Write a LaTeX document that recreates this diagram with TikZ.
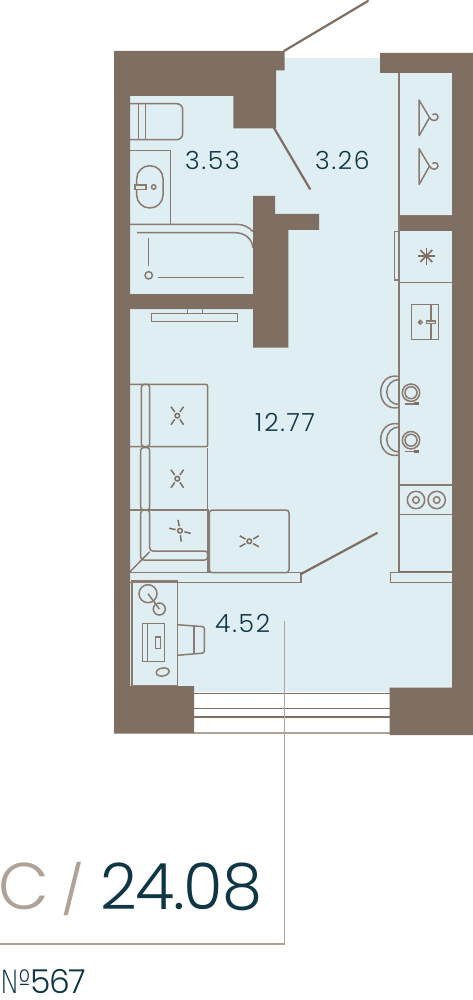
\documentclass[tikz,border=0pt]{standalone}
\usepackage{fontspec}
\newfontfamily\lightfont[LetterSpace=7]{Poppins Light}
\newfontfamily\bigfont[LetterSpace=-2]{Poppins Light}
\newfontfamily\plainfont{Poppins Light}
\newfontfamily\slashfont{Poppins}
\newfontfamily\digitfont[LetterSpace=-5]{Poppins Light}
\newfontfamily\numfont[FakeStretch=0.82]{DejaVu Sans ExtraLight}
\definecolor{wall}{HTML}{7F6E62}
\definecolor{floorc}{HTML}{DFEEF3}
\definecolor{linec}{HTML}{8A7B70}
\definecolor{tan}{HTML}{B0A297}
\definecolor{ink}{HTML}{0F3644}
\tikzset{
  wallshape/.style={fill=wall,draw=none},
  item/.style={draw=linec,line width=1.5pt,fill=none},
  leaf/.style={draw=wall,line width=2.2pt,line cap=round},
  leader/.style={draw=tan,line width=1.4pt},
  area/.style={text=ink,anchor=base west,inner sep=0pt,font=\lightfont\fontsize{25}{25}\selectfont},
}
\newcommand{\tuft}[6]{\begin{scope}[shift={(#1,#2)}]
  \draw[item,draw=wall] (0,0) circle[radius=2.3pt];
  \foreach \a in {#3,#4,#5,#6} \draw[item,draw=wall] (\a:4.5) -- (\a:11);
\end{scope}}
\newcommand{\hanger}[1]{\begin{scope}[shift={(0,#1)}]
  \draw[item,line join=round] (419,136) -- (419,100) -- (429.5,117.5) -- (419,136);
  \draw[item] (429.5,117.5) .. controls (431,121) and (437,122) .. (438,117.5) .. controls (438.5,114) and (434,113) .. (432.5,115);
\end{scope}}
\newcommand{\dining}[1]{\begin{scope}[shift={(0,#1)}]
  \draw[item] (399,376.5) .. controls (387,374) and (380.7,383) .. (380.7,392) .. controls (380.7,401) and (387,410) .. (399,407.5);
  \draw[item] (399,379.5) .. controls (392,379.5) and (386.7,385) .. (386.7,392) .. controls (386.7,399) and (392,404.5) .. (399,404.5);
  \draw[item] (411,392.7) circle[radius=8.7pt];
  \draw[item] (411,392.7) circle[radius=6pt];
  \draw[item] (404.5,403.8) -- (419,403.8);
  \fill[wall] (413.5,402.3) rectangle (419,405.3);
\end{scope}}
\begin{document}
\begin{tikzpicture}[x=1pt,y=-1pt]
\useasboundingbox (0,0) rectangle (473,1000);
% floor
\fill[floorc] (130,58) rectangle (452,692);
% bathroom
\draw[item] (130,103.7) -- (176.7,103.7) arc[start angle=90,end angle=0,radius=6pt] -- (182.7,133.7) arc[start angle=0,end angle=-90,radius=6pt] -- (130,139.7);
\draw[item] (138.7,103.7) -- (138.7,139.7) (145.3,103.7) -- (145.3,139.7);
\draw[item] (130,150.7) -- (170.3,150.7) -- (170.3,224.3);
\draw[item,rounded corners=13pt] (136.7,165.7) rectangle (163,208);
\draw[item,fill=floorc] (135,185) rectangle (146,189.3);
\draw[item] (153.7,187) circle[radius=2.2pt];
\draw[item] (130,224.3) -- (236.7,224.3) .. controls (243,224.3) and (249,227) .. (253,231.7);
\draw[item] (137,232.7) -- (235,232.7) .. controls (244,232.7) and (252,238) .. (253,247.7);
\draw[item] (148.7,237.7) -- (148.7,266);
\draw[item] (148.7,275.3) circle[radius=3.7pt];
\draw[item] (157.7,277.7) -- (244,277.7);
% tv
\draw[item] (151.7,313.3) rectangle (237.7,321.3);
\draw[item] (187.3,313.3) -- (187.3,309) (202.3,313.3) -- (202.3,309);
% wardrobe and kitchen
\draw[item] (399,73) -- (399,572);
\draw[item] (399,216) -- (452,216);
\hanger{0}
\hanger{48.7}
\draw[item] (394.3,231.7) rectangle (399,280);
\draw[item] (399,282.7) -- (452,282.7);
\foreach \a in {0,45,...,315} \draw[item,draw=wall] (426.3,256) -- ++(\a:8.5);
\draw[item] (411.3,304.7) rectangle (438.3,339.7);
\draw[item] (431,304.7) -- (431,339.7);
\draw[item] (420.3,322.3) circle[radius=1.8pt];
\draw[item,fill=floorc] (426.7,321) rectangle (435.7,323.7);
\dining{0}
\dining{47.5}
\draw[item] (399,485) -- (452,485) (399,514.7) -- (452,514.7);
\foreach \x in {416,436.7} {
  \draw[item] (\x,500) circle[radius=8.7pt];
  \draw[item] (\x,500) circle[radius=3.3pt];
}
\draw[item,line width=2pt,draw=wall] (399,571.7) -- (452,571.7);
% sofa
\draw[item,rounded corners=2pt] (130,384.3) -- (207.7,384.3) -- (207.7,446.7) -- (130,446.7);
\draw[item,rounded corners=2pt] (207.7,447.5) -- (207.7,510);
\draw[item] (130,510) -- (208,510) -- (208,572.7);
\draw[item,rounded corners=3pt] (141.3,384.3) rectangle (149.7,446.7);
\draw[item,rounded corners=3pt] (140.7,447.5) rectangle (149.7,510);
\draw[item,rounded corners=3pt] (149.7,551) -- (149.7,510) -- (140.7,510) -- (140.7,560) -- (207.7,560) -- (207.7,551) -- cycle;
\draw[item] (149.7,551.7) -- (130,571.7);
\draw[item,rounded corners=3pt] (209.3,510) rectangle (289,572.7);
\tuft{177.3}{415.7}{55}{125}{235}{305}
\tuft{177.3}{478.7}{55}{125}{235}{305}
\tuft{180}{530.7}{14}{84}{193}{260}
\tuft{249.3}{541.3}{30}{150}{210}{330}
% balcony partition
\draw[item] (130,572.7) -- (301,572.7) -- (301,582.3) -- (130,582.3);
\draw[item] (452,572.7) -- (390.3,572.7) -- (390.3,582.3) -- (452,582.3);
% desk
\draw[item,line width=1.6pt] (131.7,581) rectangle (177.3,685.7);
\draw[item] (148,593.7) circle[radius=9pt];
\draw[item] (159.3,609) circle[radius=6pt];
\draw[item] (148,593.7) -- (159.3,609);
\draw[item] (142.7,623.7) rectangle (164.7,661.3);
\draw[item] (147.7,623.7) -- (147.7,661.3);
\draw[item] (155.7,637) rectangle (160.7,648.3);
\draw[item,rotate around={10:(162.7,672)}] (162.7,672) ellipse[x radius=6.5pt,y radius=4pt];
\draw[item,rounded corners=1.5pt] (177.3,624.7) -- (204.3,626.7) -- (204.3,653) -- (177.3,655.3);
\draw[item] (194,625.5) -- (194,654);
% balcony
\draw[item,draw=wall] (194,693.3) -- (389.5,693.3) (194,708.7) -- (389.5,708.7) (194,717) -- (389.5,717);
\draw[item,draw=tan] (194,733) -- (389.5,733);
% walls
\fill[wallshape] (114,51) -- (284.7,51) -- (284.7,70.5) -- (276,70.5) -- (276,128.5) -- (233.3,128.5) -- (233.3,96) -- (130,96) -- (130,686) -- (194,686) -- (194,733.5) -- (114,733.5) -- cycle;
\fill[wallshape] (380,53) -- (473,53) -- (473,735) -- (389.5,735) -- (389.5,687.5) -- (452,687.5) -- (452,73) -- (380,73) -- cycle;
\fill[wallshape] (399.5,216) rectangle (452,230.7);
\fill[wallshape] (253,196) -- (275,196) -- (275,214) -- (319,214) -- (319,230) -- (288.3,230) -- (288.3,347.7) -- (253,347.7) -- (253,309) -- (130,309) -- (130,294) -- (253,294) -- cycle;
% door leaves
\coordinate (d1a) at (284,51); \coordinate (d1b) at (368,1);
\coordinate (d2a) at (274,128); \coordinate (d2b) at (310,189);
\coordinate (d3a) at (301,574); \coordinate (d3b) at (377,533);
\draw[leaf] (d1a) -- (d1b);
\draw[leaf] (d2a) -- (d2b);
\draw[leaf] (d3a) -- (d3b);
% leader
\coordinate (l1) at (284.7,621); \coordinate (l2) at (284.7,944); \coordinate (l3) at (0,944);
\draw[leader] (l1) -- (l2) -- (l3);
% labels
\node[area] (a1) at (185,170) {3.53};
\node[area] (a2) at (315,170) {3.26};
\node[area] (a3) at (255,431) {12.77};
\node[area] (a4) at (215,632) {4.52};
\node[anchor=base west,inner sep=0pt,text=tan,font=\plainfont\fontsize{66}{66}\selectfont] (kind) at (-2,909) {C};
\node[anchor=base west,inner sep=0pt,text=tan,font=\slashfont\fontsize{48}{48}\selectfont] (slash) at (61,907) {/};
\node[anchor=base west,inner sep=0pt,text=ink,font=\bigfont\fontsize{64}{64}\selectfont] (total) at (100,909) {24.08};
\node[anchor=base west,inner sep=0pt,text=ink] (num) at (0,993) {{\numfont\fontsize{32}{32}\selectfont №}{\digitfont\fontsize{33}{33}\selectfont 567}};
\end{tikzpicture}
\end{document}
